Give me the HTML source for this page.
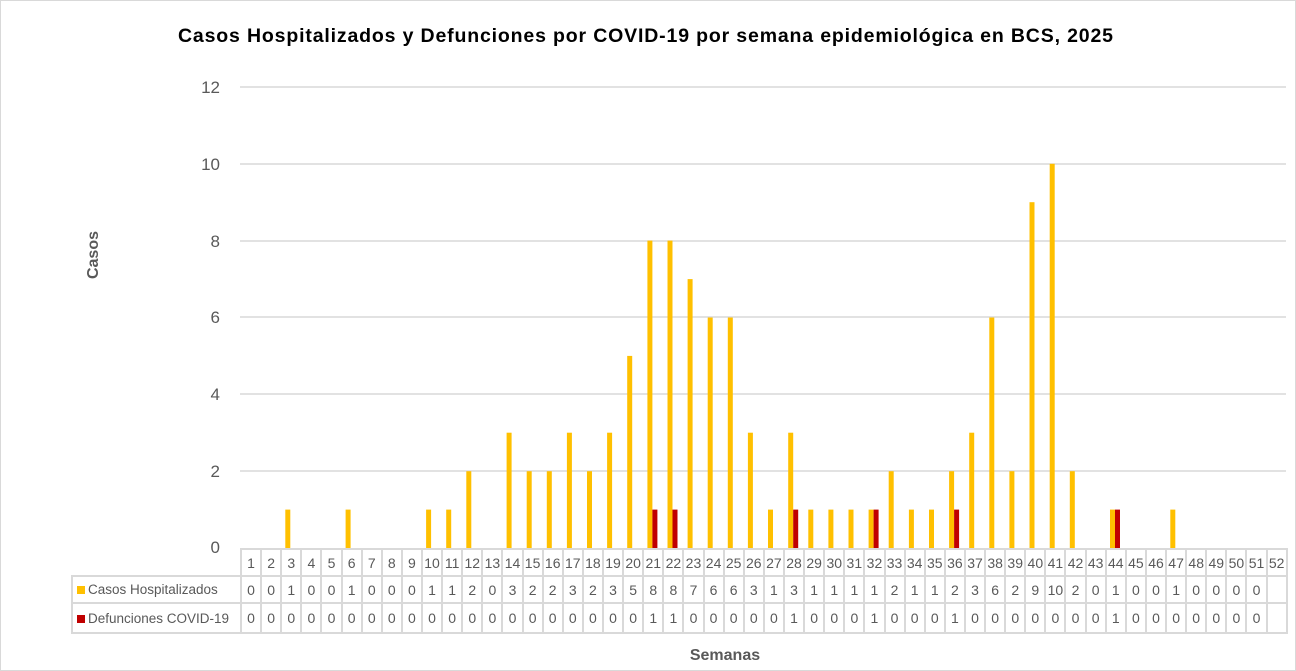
<!DOCTYPE html>
<html><head><meta charset="utf-8"><style>
body{margin:0;width:1296px;height:671px;overflow:hidden;background:#fff;font-family:"Liberation Sans",sans-serif;position:relative}
.frame{position:absolute;left:0;top:0;width:1294px;height:669px;border:1px solid #d9d9d9}
table{position:absolute;left:71px;top:548px;border-collapse:collapse;table-layout:fixed;font-size:14px;color:#595959}
td{border:2px solid #d9d9d9;text-align:center;padding:0;white-space:nowrap;overflow:hidden}
td.l{text-align:left;padding-left:4px;font-size:13.5px}
tr.r1 td{height:25px}
tr.r2 td{height:25px}
tr.r3 td{height:28px}
.sq{display:inline-block;width:8px;height:8px;margin-right:3px;vertical-align:0px}
</style></head><body>
<div class="frame"></div>
<svg width="1296" height="671" style="position:absolute;left:0;top:0">
<text x="178" y="42" textLength="935" lengthAdjust="spacing" font-family="Liberation Sans" font-weight="bold" font-size="19.5" fill="#000">Casos Hospitalizados  y Defunciones  por COVID-19 por semana epidemiológica  en BCS, 2025</text>
<g stroke="#d9d9d9" stroke-width="1.5">
<line x1="240" x2="1286" y1="87" y2="87"/><line x1="240" x2="1286" y1="164" y2="164"/><line x1="240" x2="1286" y1="241" y2="241"/><line x1="240" x2="1286" y1="317" y2="317"/><line x1="240" x2="1286" y1="394" y2="394"/><line x1="240" x2="1286" y1="471" y2="471"/>
</g>
<g font-size="17" fill="#595959" text-anchor="end" font-family="Liberation Sans">
<text x="220" y="93">12</text><text x="220" y="170">10</text><text x="220" y="247">8</text><text x="220" y="323">6</text><text x="220" y="400">4</text><text x="220" y="477">2</text><text x="220" y="553">0</text>
</g>
<text transform="translate(98,255) rotate(-90)" text-anchor="middle" font-weight="bold" font-size="16" fill="#595959">Casos</text>
<text x="725" y="660" text-anchor="middle" font-weight="bold" font-size="16" fill="#595959">Semanas</text>
<g fill="#ffc000">
<rect x="285.3" y="509.6" width="5" height="38.4"/>
<rect x="345.6" y="509.6" width="5" height="38.4"/>
<rect x="426.1" y="509.6" width="5" height="38.4"/>
<rect x="446.2" y="509.6" width="5" height="38.4"/>
<rect x="466.3" y="471.2" width="5" height="76.8"/>
<rect x="506.6" y="432.7" width="5" height="115.3"/>
<rect x="526.7" y="471.2" width="5" height="76.8"/>
<rect x="546.8" y="471.2" width="5" height="76.8"/>
<rect x="566.9" y="432.7" width="5" height="115.3"/>
<rect x="587.0" y="471.2" width="5" height="76.8"/>
<rect x="607.1" y="432.7" width="5" height="115.3"/>
<rect x="627.2" y="355.9" width="5" height="192.1"/>
<rect x="647.4" y="240.6" width="5" height="307.4"/>
<rect x="667.5" y="240.6" width="5" height="307.4"/>
<rect x="687.6" y="279.1" width="5" height="268.9"/>
<rect x="707.7" y="317.5" width="5" height="230.5"/>
<rect x="727.8" y="317.5" width="5" height="230.5"/>
<rect x="747.9" y="432.7" width="5" height="115.3"/>
<rect x="768.0" y="509.6" width="5" height="38.4"/>
<rect x="788.2" y="432.7" width="5" height="115.3"/>
<rect x="808.3" y="509.6" width="5" height="38.4"/>
<rect x="828.4" y="509.6" width="5" height="38.4"/>
<rect x="848.5" y="509.6" width="5" height="38.4"/>
<rect x="868.6" y="509.6" width="5" height="38.4"/>
<rect x="888.7" y="471.2" width="5" height="76.8"/>
<rect x="908.9" y="509.6" width="5" height="38.4"/>
<rect x="929.0" y="509.6" width="5" height="38.4"/>
<rect x="949.1" y="471.2" width="5" height="76.8"/>
<rect x="969.2" y="432.7" width="5" height="115.3"/>
<rect x="989.3" y="317.5" width="5" height="230.5"/>
<rect x="1009.4" y="471.2" width="5" height="76.8"/>
<rect x="1029.5" y="202.2" width="5" height="345.8"/>
<rect x="1049.7" y="163.8" width="5" height="384.2"/>
<rect x="1069.8" y="471.2" width="5" height="76.8"/>
<rect x="1110.0" y="509.6" width="5" height="38.4"/>
<rect x="1170.3" y="509.6" width="5" height="38.4"/>
</g>
<g fill="#c00000">
<rect x="652.4" y="509.6" width="5" height="38.4"/>
<rect x="672.5" y="509.6" width="5" height="38.4"/>
<rect x="793.2" y="509.6" width="5" height="38.4"/>
<rect x="873.6" y="509.6" width="5" height="38.4"/>
<rect x="954.1" y="509.6" width="5" height="38.4"/>
<rect x="1115.0" y="509.6" width="5" height="38.4"/>
</g>
</svg>
<table style="width:1215px">
<colgroup><col style="width:169px"><col span="52" style="width:20.115px"></colgroup>
<tr class="r1"><td style="border:none;border-right:2px solid #d9d9d9"></td><td>1</td><td>2</td><td>3</td><td>4</td><td>5</td><td>6</td><td>7</td><td>8</td><td>9</td><td>10</td><td>11</td><td>12</td><td>13</td><td>14</td><td>15</td><td>16</td><td>17</td><td>18</td><td>19</td><td>20</td><td>21</td><td>22</td><td>23</td><td>24</td><td>25</td><td>26</td><td>27</td><td>28</td><td>29</td><td>30</td><td>31</td><td>32</td><td>33</td><td>34</td><td>35</td><td>36</td><td>37</td><td>38</td><td>39</td><td>40</td><td>41</td><td>42</td><td>43</td><td>44</td><td>45</td><td>46</td><td>47</td><td>48</td><td>49</td><td>50</td><td>51</td><td>52</td></tr>
<tr class="r2"><td class="l"><span class="sq" style="background:#ffc000"></span>Casos Hospitalizados</td><td>0</td><td>0</td><td>1</td><td>0</td><td>0</td><td>1</td><td>0</td><td>0</td><td>0</td><td>1</td><td>1</td><td>2</td><td>0</td><td>3</td><td>2</td><td>2</td><td>3</td><td>2</td><td>3</td><td>5</td><td>8</td><td>8</td><td>7</td><td>6</td><td>6</td><td>3</td><td>1</td><td>3</td><td>1</td><td>1</td><td>1</td><td>1</td><td>2</td><td>1</td><td>1</td><td>2</td><td>3</td><td>6</td><td>2</td><td>9</td><td>10</td><td>2</td><td>0</td><td>1</td><td>0</td><td>0</td><td>1</td><td>0</td><td>0</td><td>0</td><td>0</td><td></td></tr>
<tr class="r3"><td class="l"><span class="sq" style="background:#c00000"></span>Defunciones COVID-19</td><td>0</td><td>0</td><td>0</td><td>0</td><td>0</td><td>0</td><td>0</td><td>0</td><td>0</td><td>0</td><td>0</td><td>0</td><td>0</td><td>0</td><td>0</td><td>0</td><td>0</td><td>0</td><td>0</td><td>0</td><td>1</td><td>1</td><td>0</td><td>0</td><td>0</td><td>0</td><td>0</td><td>1</td><td>0</td><td>0</td><td>0</td><td>1</td><td>0</td><td>0</td><td>0</td><td>1</td><td>0</td><td>0</td><td>0</td><td>0</td><td>0</td><td>0</td><td>0</td><td>1</td><td>0</td><td>0</td><td>0</td><td>0</td><td>0</td><td>0</td><td>0</td><td></td></tr>
</table>
</body></html>
